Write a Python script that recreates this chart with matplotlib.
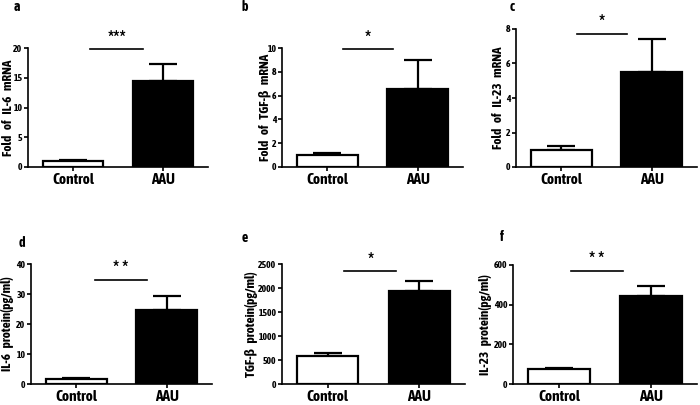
import numpy as np
import matplotlib
matplotlib.use('Agg')
import matplotlib.pyplot as plt
from matplotlib import font_manager as fm

groups = ['Control', 'AAU']

# panel values: means and upper SEM
il6_mrna = [1.0, 14.5]
il6_mrna_err = [0.25, 2.75]
tgfb_mrna = [1.0, 6.55]
tgfb_mrna_err = [0.15, 2.45]
il23_mrna = [1.0, 5.48]
il23_mrna_err = [0.22, 1.96]
il6_prot = [1.6, 24.8]
il6_prot_err = [0.4, 4.4]
tgfb_prot = [582, 1932]
tgfb_prot_err = [55, 220]
il23_prot = [76, 445]
il23_prot_err = [4, 51]

ylabels = ['Fold   of   IL-6   mRNA', 'Fold   of   TGF-β   mRNA', 'Fold   of   IL-23   mRNA',
           'IL-6   protein(pg/ml)', 'TGF-β   protein(pg/ml)', 'IL-23   protein(pg/ml)']
letters = ['a', 'b', 'c', 'd', 'e', 'f']
stars = ['***', '*', '*', '* *', '*', '* *']
ymaxes = [20, 10, 8, 40, 2500, 600]
ysteps = [5, 2, 2, 10, 500, 200]
sig_y = [19.8, 9.9, 7.73, 34.7, 2349, 572]

panels = [(il6_mrna, il6_mrna_err), (tgfb_mrna, tgfb_mrna_err), (il23_mrna, il23_mrna_err),
          (il6_prot, il6_prot_err), (tgfb_prot, tgfb_prot_err), (il23_prot, il23_prot_err)]

# look for a narrow bold sans, the figure uses one
names = set(f.name for f in fm.fontManager.ttflist)
narrow = [f.name for f in fm.fontManager.ttflist
          if ('Narrow' in f.name or 'Condensed' in f.name) and f.weight in ('bold', 700)]
FONT = sorted(set(narrow)) + ['Liberation Sans', 'DejaVu Sans']
FONT = [n for n in FONT if n in names]
plt.rcParams['font.family'] = FONT
plt.rcParams['font.weight'] = 'bold'
plt.rcParams['font.stretch'] = 'condensed'

W, H = 700, 405
fig = plt.figure(figsize=(7, 4.05), dpi=100)

# axes boxes in pixels: left, right, top, bottom
boxes = [(28, 208, 48, 167), (282, 463, 48, 167), (516, 697, 29, 167),
         (31, 212, 264, 384), (282, 465, 264, 384), (513, 697, 265, 384)]
ylab_x = [8, 265, 498, 8, 251, 486]
sig_x = [(0.19, 0.78), (0.17, 0.73), (0.17, 0.73), (0.21, 0.78), (0.18, 0.75), (0.13, 0.70)]
letter_pos = [(17, 7), (245, 7), (512, 7), (22, 243), (245, 238), (502, 237)]

for i, (vals, errs) in enumerate(panels):
	l, r, t, b = boxes[i]
	ax = fig.add_axes([l / W, 1 - b / H, (r - l) / W, (b - t) / H])
	x = np.arange(len(groups))
	ax.bar(x, vals, width=0.67, color=['white', 'black'], edgecolor='black', linewidth=1.6, zorder=2)
	ax.errorbar(x, vals, yerr=[[0, 0], errs], fmt='none', ecolor='black', elinewidth=1.6,
	            capsize=10, capthick=1.6, zorder=1)
	ax.set_xlim(-0.5, 1.5)
	ax.set_ylim(0, ymaxes[i])
	ax.set_yticks(np.arange(0, ymaxes[i] + 1, ysteps[i]))
	ax.set_xticks(x)
	ax.set_xticklabels(groups, fontsize=11, fontweight='bold')
	ax.tick_params(axis='y', labelsize=7, length=3, width=1.2, pad=1)
	ax.tick_params(axis='x', length=3, width=1.2, pad=1)
	ax.spines['top'].set_visible(False)
	ax.spines['right'].set_visible(False)
	ax.spines['left'].set_linewidth(1.2)
	ax.spines['bottom'].set_linewidth(1.2)
	ax.set_ylabel(ylabels[i], fontsize=9.5, fontweight='bold')
	ax.yaxis.label.set_verticalalignment('center')
	ax.yaxis.set_label_coords((ylab_x[i] - l) / (r - l), 0.5)
	x0, x1 = sig_x[i]
	ax.plot([x0, x1], [sig_y[i], sig_y[i]], color='black', lw=1.2, clip_on=False)
	ax.text((x0 + x1) / 2, sig_y[i] + ymaxes[i] * 0.005, stars[i], ha='center', va='bottom',
	        fontsize=15, fontweight='bold', clip_on=False)
	fig.text(letter_pos[i][0] / W, 1 - letter_pos[i][1] / H, letters[i], ha='center', va='center',
	         fontsize=10, fontweight='bold')

plt.savefig('out.png', dpi=100)
